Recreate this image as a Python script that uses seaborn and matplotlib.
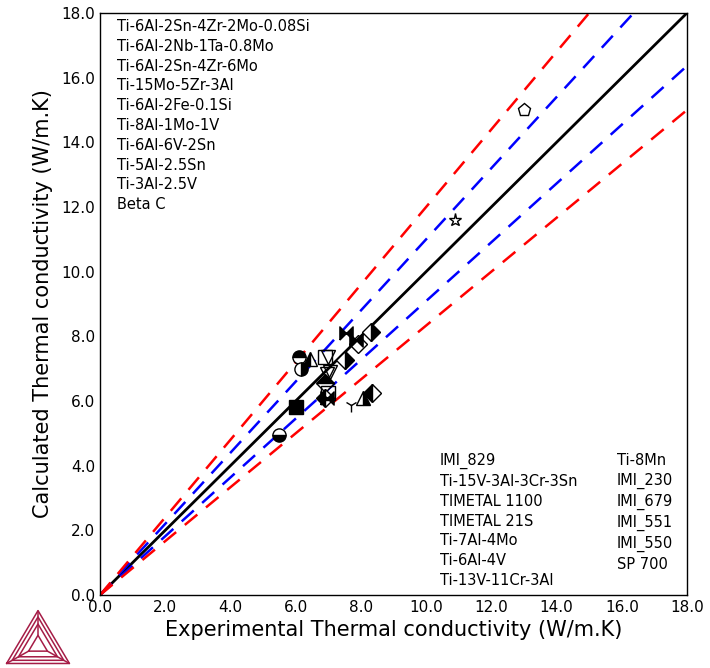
import matplotlib
matplotlib.use("Agg")
import matplotlib.pyplot as plt
import numpy as np
import pandas as pd
import seaborn as sns

sns.set_style("white")
plt.rcParams["font.family"] = ["DejaVu Sans"]
plt.rcParams["text.color"] = "black"
plt.rcParams["axes.labelcolor"] = "black"

# alloy names shown in the two text blocks
names_left = ["Ti-6Al-2Sn-4Zr-2Mo-0.08Si", "Ti-6Al-2Nb-1Ta-0.8Mo", "Ti-6Al-2Sn-4Zr-6Mo",
              "Ti-15Mo-5Zr-3Al", "Ti-6Al-2Fe-0.1Si", "Ti-8Al-1Mo-1V", "Ti-6Al-6V-2Sn",
              "Ti-5Al-2.5Sn", "Ti-3Al-2.5V", "Beta C"]
names_mid = ["IMI_829", "Ti-15V-3Al-3Cr-3Sn", "TIMETAL 1100", "TIMETAL 21S",
             "Ti-7Al-4Mo", "Ti-6Al-4V", "Ti-13V-11Cr-3Al"]
names_right = ["Ti-8Mn", "IMI_230", "IMI_679", "IMI_551", "IMI_550", "SP 700"]

# experimental vs calculated thermal conductivity (W/m.K)
experimental = [6.1, 6.15, 6.45, 6.9, 7.0, 6.95, 6.9, 6.9, 7.0, 7.55, 7.85,
                7.5, 8.3, 7.9, 6.0, 5.5, 7.7, 8.05, 8.35, 13.0, 10.9, 6.95, 7.05]
calculated = [7.35, 7.0, 7.3, 7.35, 7.35, 6.85, 6.55, 6.1, 6.25, 8.1, 7.9,
              7.27, 8.13, 7.75, 5.8, 4.95, 5.88, 6.1, 6.25, 15.0, 11.6, 6.1, 6.9]

# reference lines y = k * x
ratios = [1.0, 1.1, 1 / 1.1, 1.2, 1 / 1.2]
ratio_colors = ["black", "#0000ff", "#0000ff", "#ff0000", "#ff0000"]

bowtie = [(-1, -1), (1, 1), (1, -1), (-1, 1), (-1, -1)]
marker_styles = [("o", "top"), ("o", "right"), ("^", "left"), ("s", "none"), ("v", "none"),
                 ("v", "none"), ("D", "top"), ("D", "left"), ("s", "none"), (bowtie, "full"),
                 (bowtie, "full"), ("D", "right"), ("D", "right"), ("D", "none"), ("s", "full"),
                 ("o", "bottom"), ("1", "full"), ("^", "right"), ("D", "left"), ("p", "none"),
                 ("*", "none"), (bowtie, "full"), ("v", "none")]

fig = plt.figure(figsize=(7.1, 6.68), dpi=100)
ax = fig.add_axes([100 / 710, 73 / 668, 587 / 710, 582 / 668])

xs = np.array([0.0, 18.0])
for k, c in zip(ratios, ratio_colors):
    df_line = pd.DataFrame({"x": xs, "y": xs * k})
    line = sns.lineplot(data=df_line, x="x", y="y", ax=ax, color=c, lw=1.8)
    if k != 1.0:
        line.lines[-1].set_dashes((6.5, 4.5))
    else:
        line.lines[-1].set_linewidth(2.0)

for (m, fs), xe, yc in zip(marker_styles, experimental, calculated):
    ax.plot(xe, yc, marker=m, fillstyle=fs, ms=9.5, mec="black", mfc="black",
            mew=1.0, color="black", linestyle="none",
            markerfacecoloralt="white" if fs not in ("none", "full") else "none")

ax.set_xlim(0, 18)
ax.set_ylim(0, 18)
ticks = np.arange(0, 18.1, 2.0)
ax.set_xticks(ticks)
ax.set_yticks(ticks)
ax.set_xticklabels([f"{t:.1f}" for t in ticks])
ax.set_yticklabels([f"{t:.1f}" for t in ticks])
ax.tick_params(direction="in", length=4, width=1, labelsize=11, colors="black")
for s in ax.spines.values():
    s.set_color("black")
    s.set_linewidth(1)
ax.set_xlabel("Experimental Thermal conductivity (W/m.K)", fontsize=15, labelpad=4)
ax.set_ylabel("Calculated Thermal conductivity (W/m.K)", fontsize=15, labelpad=6)

text_kw = dict(transform=fig.transFigure, fontsize=10.5, va="top", ha="left", linespacing=1.40)
ax.text(117 / 710, 1 - 19 / 668, "\n".join(names_left), **text_kw)
ax.text(440 / 710, 1 - 453 / 668, "\n".join(names_mid), **text_kw)
ax.text(617 / 710, 1 - 453 / 668, "\n".join(names_right), **text_kw)

# Thermo-Calc style logo
logo = fig.add_axes([5 / 710, 3 / 668, 66 / 710, 58 / 668])
logo.set_xlim(-1.05, 1.05)
logo.set_ylim(-0.05, 1.85)
logo.axis("off")
crimson = "#a51c46"
outer = np.array([[-1, 0], [1, 0], [0, 1.732], [-1, 0]])
center = np.array([0, 0.577])
for scale in [1.0, 0.82, 0.62]:
    pts = center + (outer - center) * scale
    logo.plot(pts[:, 0], pts[:, 1], color=crimson, lw=1.1)
inner = center + (outer - center) * 0.3
logo.plot(inner[:, 0], inner[:, 1], color=crimson, lw=1.1)
for v, iv in zip(outer[:3], inner[:3]):
    logo.plot([v[0], iv[0]], [v[1], iv[1]], color=crimson, lw=1.1)

fig.savefig("out.png", dpi=100)
